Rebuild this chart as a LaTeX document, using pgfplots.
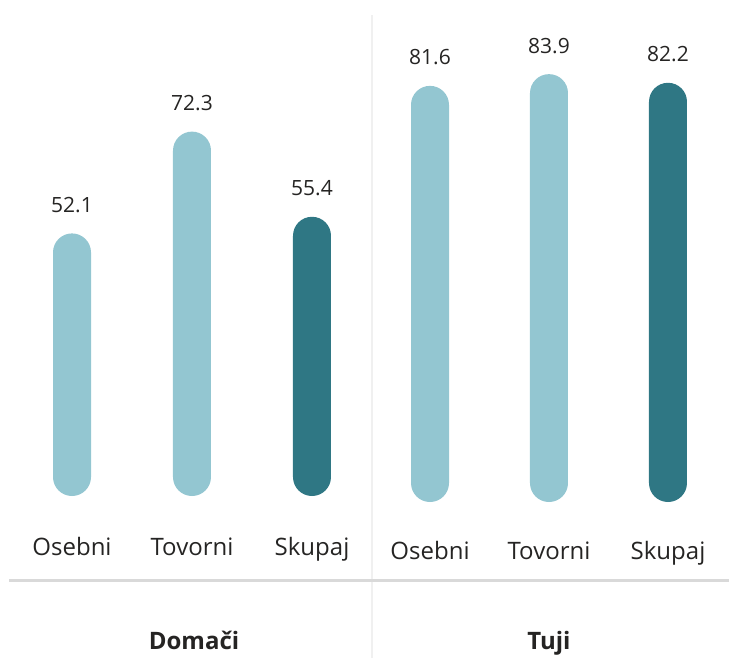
\documentclass[border=0pt]{standalone}
\usepackage{pgfplots}
\pgfplotsset{compat=1.18}
\usepackage{fontspec}
\setmainfont{Open Sans}
\definecolor{light}{HTML}{93C6D1}
\definecolor{dark}{HTML}{2F7784}
\definecolor{txt}{HTML}{252423}
\definecolor{sepv}{HTML}{F0F0F0}
\definecolor{seph}{HTML}{D9D9D9}
\pgfplotsset{
  panel/.style={
    anchor=south west, scale only axis,
    xmin=-0.5, xmax=2.5, ymin=0, ymax=90,
    axis line style={draw=none}, ytick=\empty,
    xtick={0,1,2}, xticklabels={Osebni,Tovorni,Skupaj},
    major tick length=0pt,
    xticklabel style={anchor=base, font=\fontsize{12}{14}\selectfont, text=txt},
    clip=false, ybar, bar width=19pt,
    nodes near coords, point meta=explicit symbolic,
    every node near coord/.append style={anchor=base, yshift=10.5pt, font=\fontsize{10.5}{12}\selectfont, text=txt},
  },
  bar/.style={fill=#1, draw=none, bar shift=0pt, rounded corners=9.49pt},
}
\begin{document}
\begin{tikzpicture}
\useasboundingbox (0,0) rectangle (364.5pt,-329pt);
\draw[sepv, line width=1pt] (186pt,-7.5pt) -- (186pt,-329pt);
\draw[seph, line width=1.5pt] (4.5pt,-290pt) -- (364.5pt,-290pt);
\begin{axis}[panel, at={(6pt,-248pt)}, width=180pt, height=226.8pt,
  xticklabel style={yshift=-29.5pt}]
\addplot[bar=light] coordinates {(0,52.1) [52.1]};
\addplot[bar=light] coordinates {(1,72.3) [72.3]};
\addplot[bar=dark] coordinates {(2,55.4) [55.4]};
\end{axis}
\begin{axis}[panel, at={(185.25pt,-251pt)}, width=178.5pt, height=229.5pt,
  xticklabel style={yshift=-28.5pt}]
\addplot[bar=light] coordinates {(0,81.6) [81.6]};
\addplot[bar=light] coordinates {(1,83.9) [83.9]};
\addplot[bar=dark] coordinates {(2,82.2) [82.2]};
\end{axis}
\node[anchor=base, font=\bfseries\fontsize{12}{14}\selectfont, text=txt] at (97pt,-324.5pt) {Domači};
\node[anchor=base, font=\bfseries\fontsize{12}{14}\selectfont, text=txt] at (274.5pt,-324.5pt) {Tuji};
\end{tikzpicture}
\end{document}
